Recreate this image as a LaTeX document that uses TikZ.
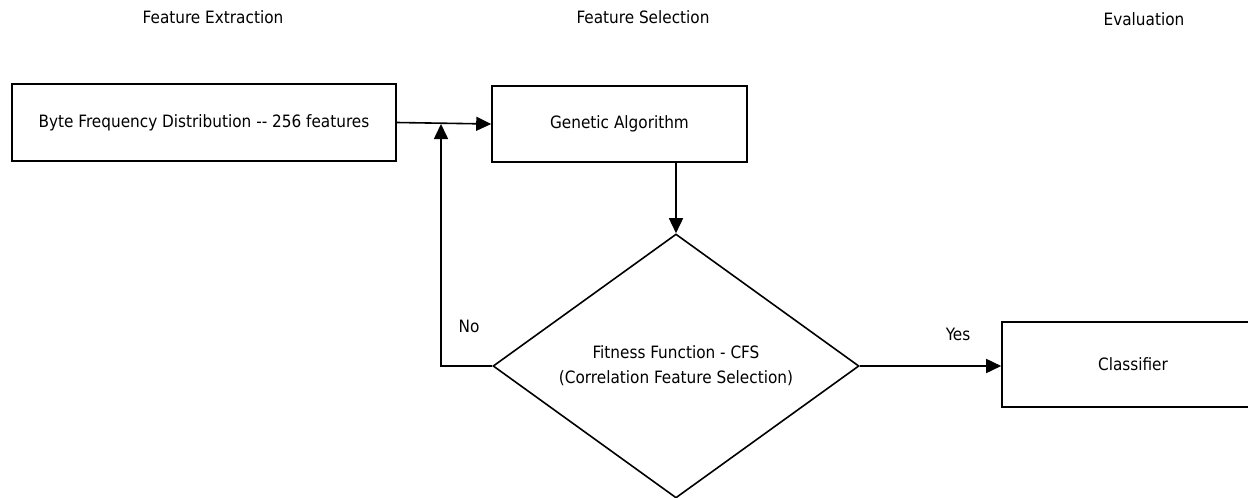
\documentclass[tikz,border=0pt]{standalone}
\usepackage{fontspec}
\setmainfont{DejaVu Sans Condensed}
\usetikzlibrary{arrows.meta,shapes.geometric}
\tikzset{
  box/.style={draw, line width=1.6pt, inner sep=0pt, align=center},
  decision/.style={draw, diamond, shape aspect=1.39, line width=1.6pt, inner sep=0pt, align=center},
  arr/.style={line width=1.6pt, -{Triangle[length=15pt,width=14pt]}},
  lbl/.style={inner sep=0pt},
}
\begin{document}
\begin{tikzpicture}[x=1pt,y=-1pt, every node/.style={font=\fontsize{17}{25}\selectfont}]
\useasboundingbox[fill=white] (0,0) rectangle (1248,498);
\node[lbl] (h1) at (213,17) {Feature Extraction};
\node[lbl] (h2) at (643,17) {Feature Selection};
\node[lbl] (h3) at (1144,19) {Evaluation};
\node[box, minimum width=384pt, minimum height=77pt] (bfd) at (204,122.5) {Byte Frequency Distribution -{}- 256 features};
\node[box, minimum width=255pt, minimum height=76pt] (ga) at (619.5,124) {Genetic Algorithm};
\node[decision, minimum width=366pt, minimum height=264pt] (dia) at (676,366) {Fitness Function - CFS\\(Correlation Feature Selection)};
\node[box, minimum width=262pt, minimum height=85pt] (cls) at (1133,364.5) {Classifier};
\coordinate (j) at (441,124);
\draw[arr] (bfd.east) -- (ga.west);
\draw[arr] (dia.north |- ga.south) -- (dia.north);
\draw[arr] (dia.west) -| (j);
\draw[arr] (dia.east) -- (dia.east -| cls.west);
\node[lbl] (no) at (469,326) {No};
\node[lbl] (yes) at (958,334) {Yes};
\end{tikzpicture}
\end{document}
